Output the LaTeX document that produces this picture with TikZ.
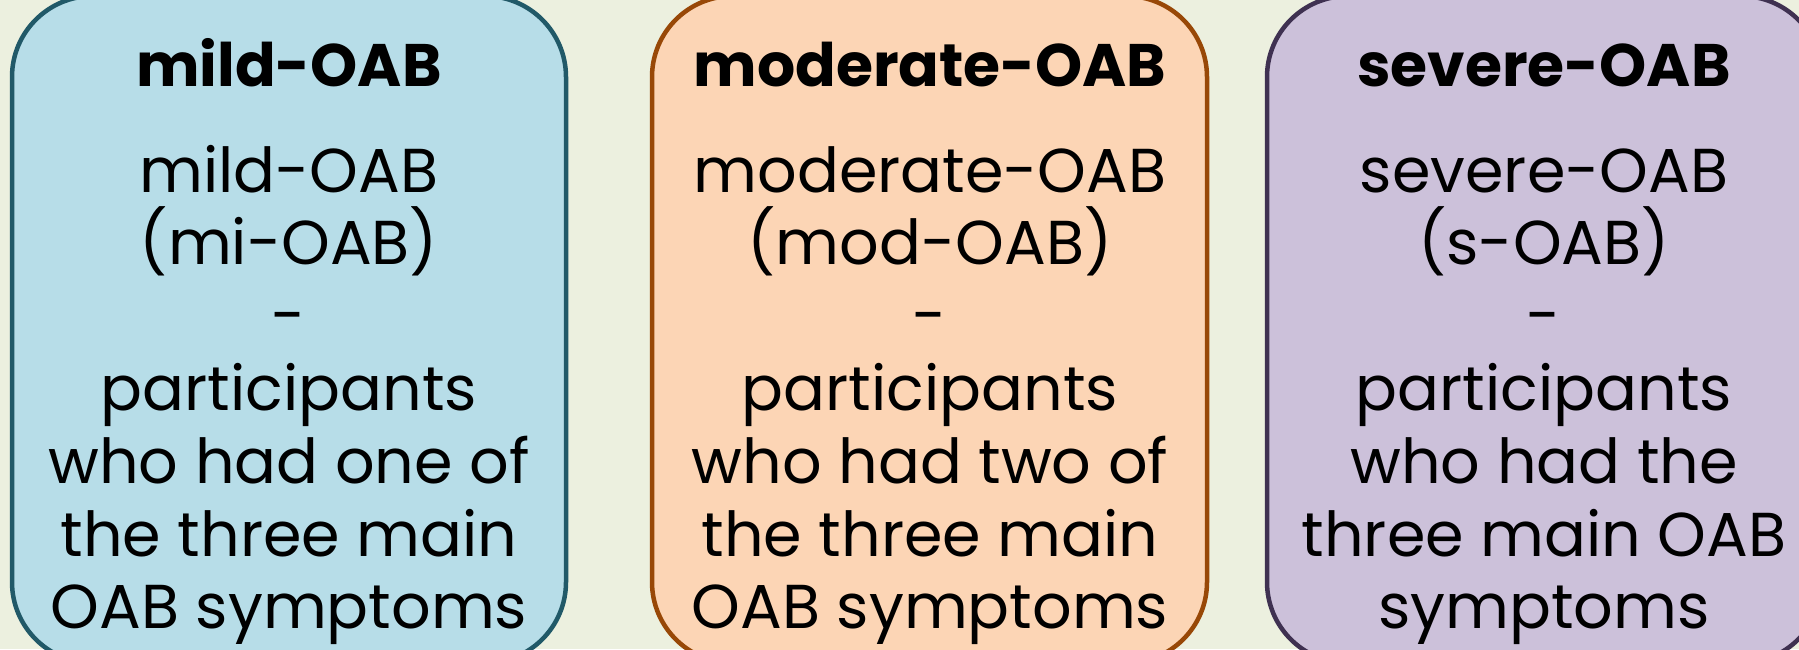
\documentclass[tikz,border=0pt]{standalone}
\usepackage{fontspec}
\setmainfont{Poppins}
\definecolor{bg}{HTML}{ECF0DF}
\definecolor{fillA}{HTML}{B7DDE8}
\definecolor{drawA}{HTML}{215968}
\definecolor{fillB}{HTML}{FCD5B5}
\definecolor{drawB}{HTML}{984807}
\definecolor{fillC}{HTML}{CCC1DA}
\definecolor{drawC}{HTML}{3F3151}
\tikzset{
  card/.style={rounded corners=81pt, line width=4.5pt},
  ttl/.style={anchor=base, inner sep=0pt, font=\fontsize{60}{60}\selectfont\bfseries},
  txt/.style={anchor=base, inner sep=0pt, font=\fontsize{62}{62}\selectfont},
}
\begin{document}
\begin{tikzpicture}[x=1pt,y=-1pt]
\useasboundingbox (0,0) rectangle (1799,649);
\clip (0,0) rectangle (1799,649);
\fill[bg] (0,0) rectangle (1799,649);
\draw[card, fill=fillA, draw=drawA] (12,-4) rectangle (566,663);
\draw[card, fill=fillB, draw=drawB] (652,-4) rectangle (1207,663);
\draw[card, fill=fillC, draw=drawC] (1267,-4) rectangle (1822,663);
% box 1
\node[ttl] (a0) at (289,86) {mild-OAB};
\foreach \t [count=\i from 0] in {mild-OAB,(mi-OAB),-,participants,who had one of,the three main,OAB symptoms}
  \node[txt] (a\i x) at (289,192+72.8*\i) {\t};
% box 2
\node[ttl] (b0) at (930,86) {moderate-OAB};
\foreach \t [count=\i from 0] in {moderate-OAB,(mod-OAB),-,participants,who had two of,the three main,OAB symptoms}
  \node[txt] (b\i x) at (930,192+72.8*\i) {\t};
% box 3
\node[ttl] (c0) at (1544,86) {severe-OAB};
\foreach \t [count=\i from 0] in {severe-OAB,(s-OAB),-,participants,who had the,three main OAB,symptoms}
  \node[txt] (c\i x) at (1544,192+72.8*\i) {\t};
\end{tikzpicture}
\end{document}
